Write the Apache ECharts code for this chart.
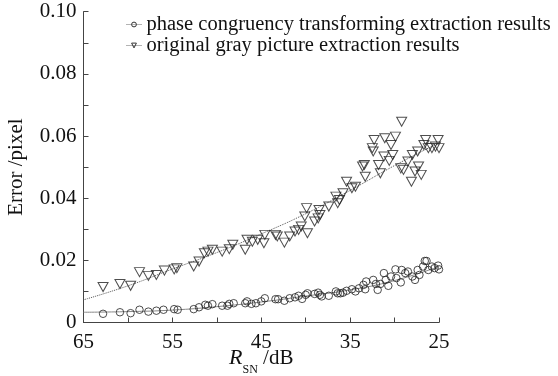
<!DOCTYPE html>
<html>
<head>
<meta charset="utf-8">
<script src="https://cdn.jsdelivr.net/npm/echarts@6/dist/echarts.min.js"></script>
<style>
  html, body { margin: 0; padding: 0; background: #fff; }
  #chart { width: 558px; height: 376px; }
</style>
</head>
<body>
<div id="chart"></div>
<script>
// 图例名称
var seriesNames = ['phase congruency transforming extraction results', 'original gray picture extraction results'];

// 相位一致性结果 (RSN dB, 误差)
var pcSnr = [62.8, 60.9, 59.7, 58.7, 57.7, 56.8, 56.0, 54.8, 54.4, 52.6, 52.0, 51.3, 51.0, 50.5, 49.4, 48.8, 48.6, 48.1,
    46.8, 46.6, 46.1, 45.6, 45.0, 44.6, 43.4, 43.1, 42.4, 41.8, 41.2, 40.8, 40.4, 40.0, 39.8, 39.0, 38.6, 38.4, 38.2,
    37.4, 36.6, 36.4, 36.1, 35.8, 35.4, 34.8, 34.4, 34.0, 33.5, 33.3, 33.2, 32.4, 32.1, 31.9, 31.6, 31.2, 31.0, 30.7,
    30.4, 29.9, 29.8, 29.3, 29.2, 28.8, 28.5, 28.0, 27.7, 27.4, 27.2, 26.8, 26.6, 26.4, 26.2, 25.8, 25.5, 25.1, 25.0];
var pcErr = [0.0028, 0.0033, 0.0030, 0.0041, 0.0035, 0.0038, 0.0041, 0.0043, 0.0041, 0.0043, 0.0049, 0.0057, 0.0054,
    0.0059, 0.0054, 0.0054, 0.0060, 0.0062, 0.0062, 0.0068, 0.0060, 0.0062, 0.0068, 0.0078, 0.0075, 0.0075, 0.0070,
    0.0078, 0.0081, 0.0086, 0.0076, 0.0089, 0.0094, 0.0092, 0.0096, 0.0089, 0.0084, 0.0086, 0.0100, 0.0094, 0.0094,
    0.0096, 0.0102, 0.0107, 0.0100, 0.0110, 0.0121, 0.0107, 0.0132, 0.0137, 0.0124, 0.0105, 0.0124, 0.0159, 0.0137,
    0.0118, 0.0148, 0.0171, 0.0143, 0.0129, 0.0169, 0.0159, 0.0164, 0.0148, 0.0137, 0.0169, 0.0153, 0.0180, 0.0198,
    0.0198, 0.0169, 0.0180, 0.0175, 0.0183, 0.0171];

// 原始灰度图结果
var ogSnr = [62.8, 60.9, 59.7, 58.7, 57.7, 56.8, 55.9, 54.8, 54.5, 52.6, 52.0, 51.4, 51.0, 50.5, 49.4, 48.6, 48.2,
    46.8, 46.6, 46.0, 45.4, 44.7, 44.6, 43.4, 43.2, 42.4, 41.8, 41.2, 40.8, 40.5, 40.1, 39.9, 39.8, 39.0, 38.6, 38.5,
    38.4, 37.4, 36.6, 36.4, 36.2, 35.8, 35.4, 34.8, 34.4, 33.6, 33.4, 33.3, 32.4, 32.3, 32.5, 31.8, 31.6, 31.2, 31.1,
    30.6, 30.4, 30.2, 29.9, 29.3, 29.2, 29.0, 28.5, 28.1, 28.0, 27.7, 27.4, 27.3, 27.0, 26.7, 26.5, 26.2, 25.8, 25.4,
    25.1, 25.0];
var ogErr = [0.0114, 0.0124, 0.0118, 0.0162, 0.0150, 0.0153, 0.0167, 0.0171, 0.0175, 0.0180, 0.0196, 0.0223, 0.0228,
    0.0234, 0.0228, 0.0236, 0.0250, 0.0234, 0.0266, 0.0260, 0.0266, 0.0255, 0.0282, 0.0282, 0.0277, 0.0257, 0.0277,
    0.0293, 0.0298, 0.0309, 0.0341, 0.0368, 0.0287, 0.0325, 0.0335, 0.0362, 0.0346, 0.0373, 0.0405, 0.0384, 0.0394,
    0.0416, 0.0453, 0.0432, 0.0437, 0.0502, 0.0507, 0.0469, 0.0550, 0.0587, 0.0561, 0.0507, 0.0480, 0.0534, 0.0593,
    0.0520, 0.0571, 0.0539, 0.0598, 0.0496, 0.0646, 0.0491, 0.0518, 0.0453, 0.0539, 0.0486, 0.0550, 0.0502, 0.0475,
    0.0571, 0.0587, 0.0561, 0.0561, 0.0566, 0.0587, 0.0561];

// 拟合曲线
var fitSnr = [65, 60, 55, 50, 45, 40, 35, 30, 25];
var pcFit = [0.0033, 0.0035, 0.0040, 0.0051, 0.0066, 0.0085, 0.0105, 0.0135, 0.0180];
var ogFit = [0.0073, 0.0118, 0.0172, 0.0225, 0.0285, 0.0350, 0.0425, 0.0505, 0.0578];

function pairs(xs, ys) {
    var out = [];
    for (var i = 0; i < xs.length; i++) {
        out.push([xs[i], ys[i]]);
    }
    return out;
}

var serif = "'Liberation Serif', serif";
var hollow = { color: 'rgba(0,0,0,0)', borderColor: '#222', borderWidth: 1 };
var chart = echarts.init(document.getElementById('chart'));
var option = {
    backgroundColor: '#fff',
    animation: false,
    textStyle: { fontFamily: serif },
    grid: { left: 83.5, right: 119, top: 11.7, bottom: 53.5, outerBoundsMode: 'none', containLabel: false },
    legend: {
        data: seriesNames,
        orient: 'vertical',
        left: 126,
        top: 14,
        padding: 0,
        itemGap: 0,
        itemWidth: 15,
        itemHeight: 6,
        textStyle: { fontFamily: serif, fontSize: 20.5, color: '#111' },
        itemStyle: { color: 'rgba(0,0,0,0)', borderColor: '#333', borderWidth: 1 },
        lineStyle: { type: 'dotted', width: 1, color: '#666' }
    },
    xAxis: {
        type: 'value',
        inverse: true,
        min: 25,
        max: 65,
        interval: 10,
        name: '{i|R}{s|SN} /dB',
        nameLocation: 'middle',
        nameGap: 25,
        nameMoveOverlap: false,
        nameTextStyle: {
            fontFamily: serif, fontSize: 21, color: '#111',
            rich: {
                i: { fontFamily: serif, fontStyle: 'italic', fontSize: 22, color: '#111', verticalAlign: 'bottom' },
                s: { fontFamily: serif, fontSize: 12, color: '#111', verticalAlign: 'bottom', padding: [0, 0, -6, 0] }
            }
        },
        axisLine: { lineStyle: { color: '#444', width: 1 } },
        axisTick: { inside: true, length: 5, lineStyle: { color: '#444' } },
        minorTick: { show: true, splitNumber: 2, length: 5, lineStyle: { color: '#444' } },
        axisLabel: { fontFamily: serif, fontSize: 21, color: '#111', margin: 9 },
        splitLine: { show: false }
    },
    yAxis: {
        type: 'value',
        min: 0,
        max: 0.1,
        interval: 0.02,
        name: 'Error /pixel',
        nameLocation: 'middle',
        nameGap: 57,
        nameMoveOverlap: false,
        nameTextStyle: { fontFamily: serif, fontSize: 21, color: '#111' },
        axisLine: { show: true, lineStyle: { color: '#444', width: 1 } },
        axisTick: { show: true, inside: true, length: 5, lineStyle: { color: '#444' } },
        minorTick: { show: true, splitNumber: 2, length: 5, lineStyle: { color: '#444' } },
        axisLabel: {
            fontFamily: serif, fontSize: 21, color: '#111', margin: 7,
            formatter: function (v) { return v === 0 ? '0' : v.toFixed(2); }
        },
        splitLine: { show: false }
    },
    series: [
        {
            name: seriesNames[0],
            type: 'line',
            data: pairs(fitSnr, pcFit),
            smooth: true,
            symbol: 'circle',
            symbolSize: 6,
            showSymbol: false,
            itemStyle: hollow,
            lineStyle: { color: '#888', width: 1, type: 'solid' },
            z: 1
        },
        {
            name: seriesNames[1],
            type: 'line',
            data: pairs(fitSnr, ogFit),
            smooth: true,
            symbol: 'triangle',
            symbolRotate: 180,
            symbolSize: 7,
            showSymbol: false,
            itemStyle: hollow,
            lineStyle: { color: '#555', width: 1, type: 'dotted' },
            z: 1
        },
        {
            name: 'pc',
            type: 'scatter',
            data: pairs(pcSnr, pcErr),
            symbol: 'circle',
            symbolSize: 7.5,
            itemStyle: hollow,
            z: 2
        },
        {
            name: 'og',
            type: 'scatter',
            data: pairs(ogSnr, ogErr),
            symbol: 'triangle',
            symbolRotate: 180,
            symbolSize: [10, 9],
            itemStyle: hollow,
            z: 2
        }
    ]
};
chart.setOption(option);
</script>
</body>
</html>
